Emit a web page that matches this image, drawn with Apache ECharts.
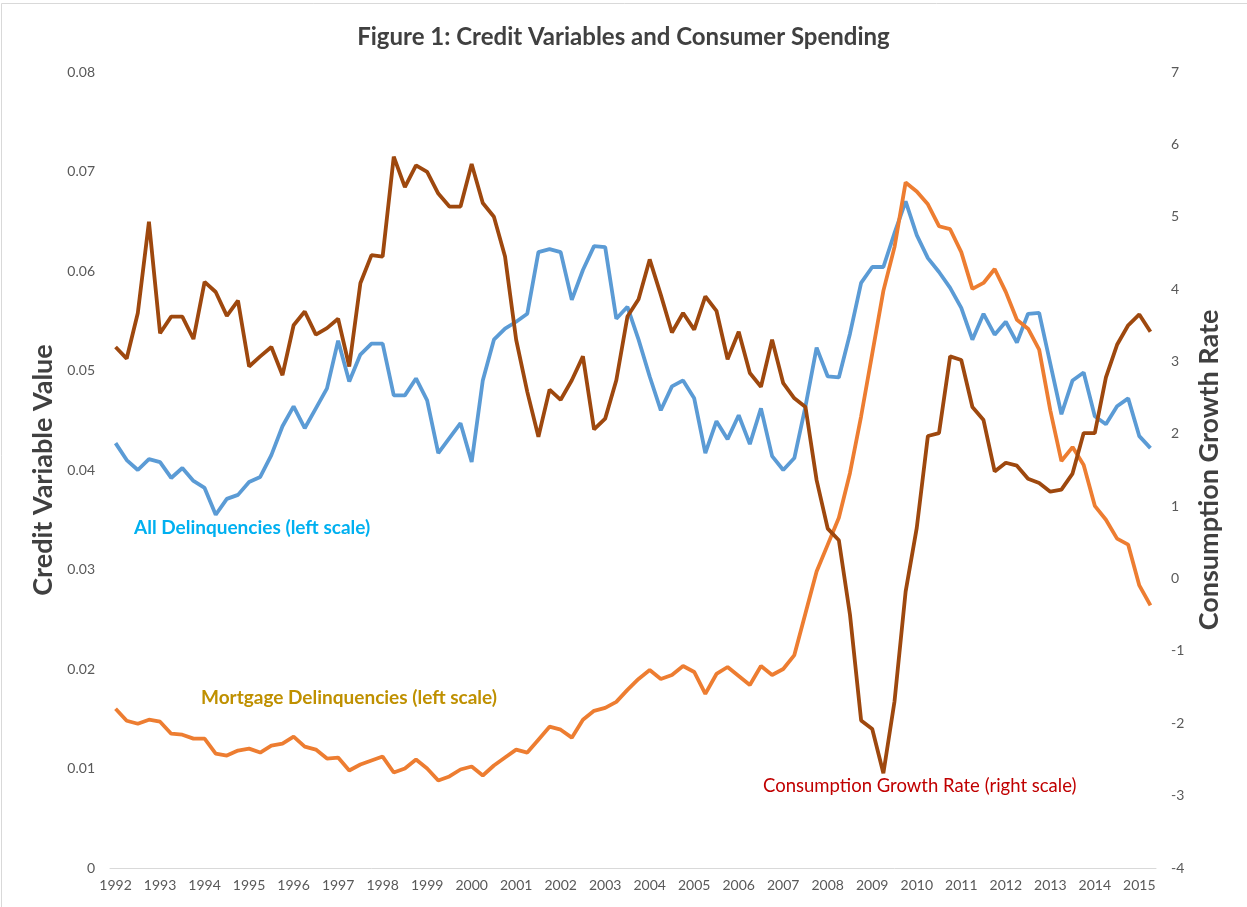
<!DOCTYPE html>
<html>
<head>
<meta charset="utf-8">
<script src="https://cdn.jsdelivr.net/npm/echarts@6/dist/echarts.min.js"></script>
<style>
  html, body { margin: 0; padding: 0; background: #fff; }
  #chart { width: 1247px; height: 907px; }
</style>
</head>
<body>
<div id="chart"></div>
<script>
// quarterly data, 1992Q1 .. 2015Q2
var years = [];
for (var y = 1992; y <= 2015; y++) years.push(y);
var quarters = [];
years.forEach(function (yr) {
    for (var q = 1; q <= 4; q++) quarters.push(yr + 'Q' + q);
});
quarters = quarters.slice(0, 94);

// all delinquencies (left scale)
var allDelinq = [
    0.0427, 0.0410, 0.0400, 0.0411, 0.0408, 0.0392, 0.0402, 0.0389,
    0.0382, 0.0355, 0.0371, 0.0375, 0.0388, 0.0393, 0.0415, 0.0444,
    0.0464, 0.0442, 0.0462, 0.0482, 0.0530, 0.0489, 0.0516, 0.0527,
    0.0527, 0.0475, 0.0475, 0.0492, 0.0470, 0.0417, 0.0432, 0.0447,
    0.0408, 0.0490, 0.0531, 0.0542, 0.0549, 0.0557, 0.0619, 0.0622,
    0.0619, 0.0571, 0.0601, 0.0625, 0.0624, 0.0552, 0.0564, 0.0531,
    0.0494, 0.0460, 0.0484, 0.0490, 0.0472, 0.0417, 0.0449, 0.0431,
    0.0455, 0.0426, 0.0462, 0.0414, 0.0400, 0.0412, 0.0464, 0.0523,
    0.0494, 0.0493, 0.0537, 0.0588, 0.0604, 0.0604, 0.0638, 0.0670,
    0.0636, 0.0613, 0.0599, 0.0583, 0.0563, 0.0531, 0.0557, 0.0536,
    0.0549, 0.0528, 0.0557, 0.0558, 0.0507, 0.0456, 0.0490, 0.0498,
    0.0454, 0.0446, 0.0464, 0.0472, 0.0434, 0.0422
];

// mortgage delinquencies (left scale)
var mortgageDelinq = [
    0.0160, 0.0148, 0.0145, 0.0149, 0.0147, 0.0135, 0.0134, 0.0130,
    0.0130, 0.0115, 0.0113, 0.0118, 0.0120, 0.0116, 0.0123, 0.0125,
    0.0132, 0.0122, 0.0119, 0.0110, 0.0111, 0.0098, 0.0104, 0.0108,
    0.0112, 0.0096, 0.0100, 0.0109, 0.0100, 0.0088, 0.0092, 0.0099,
    0.0102, 0.0093, 0.0103, 0.0111, 0.0119, 0.0116, 0.0129, 0.0142,
    0.0139, 0.0131, 0.0149, 0.0158, 0.0161, 0.0167, 0.0179, 0.0190,
    0.0199, 0.0190, 0.0194, 0.0203, 0.0197, 0.0175, 0.0195, 0.0202,
    0.0193, 0.0184, 0.0203, 0.0194, 0.0200, 0.0214, 0.0256, 0.0298,
    0.0325, 0.0352, 0.0397, 0.0454, 0.0517, 0.0580, 0.0624, 0.0689,
    0.0680, 0.0667, 0.0645, 0.0642, 0.0619, 0.0582, 0.0588, 0.0602,
    0.0579, 0.0551, 0.0542, 0.0521, 0.0460, 0.0409, 0.0423, 0.0405,
    0.0364, 0.0350, 0.0331, 0.0325, 0.0284, 0.0264
];

// consumption growth rate (right scale)
var consumptionGrowth = [
    3.20, 3.04, 3.67, 4.93, 3.39, 3.62, 3.62, 3.31,
    4.10, 3.96, 3.63, 3.84, 2.93, 3.07, 3.20, 2.81,
    3.50, 3.69, 3.37, 3.46, 3.59, 2.93, 4.08, 4.47,
    4.45, 5.83, 5.41, 5.71, 5.62, 5.32, 5.14, 5.14,
    5.73, 5.19, 5.00, 4.45, 3.30, 2.58, 1.96, 2.61,
    2.47, 2.74, 3.07, 2.06, 2.21, 2.74, 3.62, 3.86,
    4.41, 3.92, 3.40, 3.67, 3.44, 3.90, 3.70, 3.03,
    3.41, 2.84, 2.65, 3.30, 2.70, 2.49, 2.37, 1.36,
    0.69, 0.53, -0.50, -1.96, -2.08, -2.69, -1.70, -0.18,
    0.70, 1.97, 2.01, 3.07, 3.02, 2.37, 2.19, 1.48,
    1.60, 1.56, 1.38, 1.32, 1.20, 1.23, 1.45, 2.01,
    2.01, 2.78, 3.23, 3.50, 3.65, 3.41
];

var FONT = 'Lato, "Open Sans", sans-serif';
var axisGray = '#595959';

var myChart = echarts.init(document.getElementById('chart'), null, {renderer: 'canvas'});

var option = {
    backgroundColor: '#fff',
    animation: false,
    title: {
        text: 'Figure 1: Credit Variables and Consumer Spending',
        left: 'center',
        top: 20,
        textStyle: {
            fontFamily: FONT,
            fontWeight: 'bold',
            fontSize: 24,
            color: '#404040'
        }
    },
    grid: {
        left: 110,
        right: 91,
        top: 72,
        bottom: 39,
        containLabel: false
    },
    xAxis: {
        type: 'category',
        data: quarters,
        boundaryGap: true,
        axisLine: { lineStyle: { color: '#d9d9d9', width: 1 } },
        axisTick: {
            interval: 3,
            length: 5,
            lineStyle: { color: '#d9d9d9' }
        },
        axisLabel: {
            interval: 3,
            margin: 10,
            color: axisGray,
            fontFamily: FONT,
            fontSize: 14,
            formatter: function (v) { return v.slice(0, 4); }
        },
        splitLine: { show: false }
    },
    yAxis: [
        {
            type: 'value',
            min: 0,
            max: 0.08,
            interval: 0.01,
            name: 'Credit Variable Value',
            nameLocation: 'middle',
            nameRotate: 90,
            nameGap: 51,
            nameTextStyle: {
                fontFamily: FONT,
                fontWeight: 'bold',
                fontSize: 27,
                color: '#404040'
            },
            axisLine: { show: false },
            axisTick: { show: false },
            splitLine: { show: false },
            axisLabel: {
                margin: 15,
                color: axisGray,
                fontFamily: FONT,
                fontSize: 14,
                formatter: function (v) { return v === 0 ? '0' : v.toFixed(2); }
            }
        },
        {
            type: 'value',
            min: -4,
            max: 7,
            interval: 1,
            name: 'Consumption Growth Rate',
            nameLocation: 'middle',
            nameRotate: 90,
            nameGap: 40,
            nameTextStyle: {
                fontFamily: FONT,
                fontWeight: 'bold',
                fontSize: 27,
                color: '#404040'
            },
            axisLine: { show: false },
            axisTick: { show: false },
            splitLine: { show: false },
            axisLabel: {
                margin: 15,
                color: axisGray,
                fontFamily: FONT,
                fontSize: 14
            }
        }
    ],
    series: [
        {
            name: 'All Delinquencies',
            type: 'line',
            yAxisIndex: 0,
            data: allDelinq,
            showSymbol: false,
            lineStyle: { color: '#5B9BD5', width: 3.8 },
            itemStyle: { color: '#5B9BD5' }
        },
        {
            name: 'Mortgage Delinquencies',
            type: 'line',
            yAxisIndex: 0,
            data: mortgageDelinq,
            showSymbol: false,
            lineStyle: { color: '#ED7D31', width: 3.8 },
            itemStyle: { color: '#ED7D31' }
        },
        {
            name: 'Consumption Growth Rate',
            type: 'line',
            yAxisIndex: 1,
            data: consumptionGrowth,
            showSymbol: false,
            lineStyle: { color: '#9E480E', width: 3.8 },
            itemStyle: { color: '#9E480E' }
        }
    ],
    graphic: [
        {   // thin frame, like the exported chart area
            type: 'rect',
            silent: true,
            shape: { x: 1.5, y: 3.5, width: 1260, height: 920 },
            style: { fill: null, stroke: '#d9d9d9', lineWidth: 1 }
        },
        {
            type: 'text',
            left: 134,
            top: 518,
            style: {
                text: 'All Delinquencies (left scale)',
                fill: '#00B0F0',
                font: 'bold 19px ' + FONT
            }
        },
        {
            type: 'text',
            left: 201,
            top: 688,
            style: {
                text: 'Mortgage Delinquencies (left scale)',
                fill: '#BF9000',
                font: 'bold 19px ' + FONT
            }
        },
        {
            type: 'text',
            left: 763,
            top: 777,
            style: {
                text: 'Consumption Growth Rate (right scale)',
                fill: '#C00000',
                font: '18.5px ' + FONT
            }
        }
    ]
};

myChart.setOption(option);
</script>
</body>
</html>
